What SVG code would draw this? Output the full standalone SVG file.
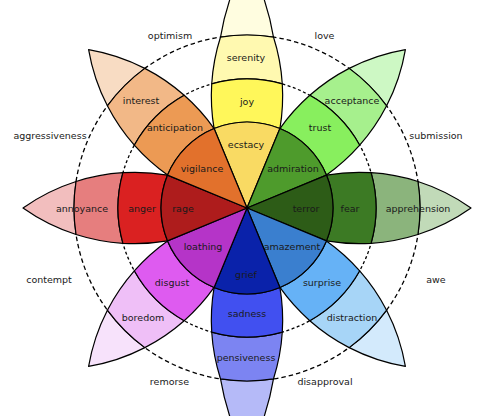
<svg xmlns="http://www.w3.org/2000/svg" xmlns:xlink="http://www.w3.org/1999/xlink" width="493" height="416" viewBox="0 0 493 416">
<style>
.c{fill:none;stroke:#000;stroke-width:1.3}
.o{stroke-dasharray:4.5 3}
.i{stroke-dasharray:3 2.5}
.s{stroke:#000;stroke-width:1.2;stroke-linejoin:round}
text{font-family:"DejaVu Sans",Verdana,sans-serif;font-size:9.5px;fill:#1a1a1a;text-anchor:middle}
</style>
<defs>
<path id="sec" d="M0,0 L79.45,-32.91 A86,86 0 0 1 79.45,32.91 Z"/>
<path id="b1" d="M79.45,-32.91 A193.67,193.67 0 0 1 124.08,-35.29 A129,129 0 0 1 124.08,35.29 A193.67,193.67 0 0 1 79.45,32.91 A86,86 0 0 0 79.45,-32.91 Z"/>
<path id="b2" d="M124.08,-35.29 A193.67,193.67 0 0 1 170.96,-26.48 A173,173 0 0 1 170.96,26.48 A193.67,193.67 0 0 1 124.08,35.29 A129,129 0 0 0 124.08,-35.29 Z"/>
<path id="b3" d="M170.96,-26.48 A193.67,193.67 0 0 1 224,0 A193.67,193.67 0 0 1 170.96,26.48 A173,173 0 0 0 170.96,-26.48 Z"/>
<path id="b3v" d="M170.96,-26.48 Q210,-20 250,0 Q210,20 170.96,26.48 A173,173 0 0 0 170.96,-26.48 Z"/>
</defs>
<g id="connectors">
<circle class="c o" cx="247" cy="208" r="173"/>
<circle class="c i" cx="247" cy="208" r="129"/>
</g>
<g id="tips">
<use href="#b3v" class="s" fill="#FFFDE0" transform="translate(247 208) rotate(-90)"/>
<use href="#b3" class="s" fill="#CDF8C4" transform="translate(247 208) rotate(-45)"/>
<use href="#b3" class="s" fill="#C1DAB8" transform="translate(247 208) rotate(0)"/>
<use href="#b3" class="s" fill="#D3EAFC" transform="translate(247 208) rotate(45)"/>
<use href="#b3v" class="s" fill="#B5BAF8" transform="translate(247 208) rotate(90)"/>
<use href="#b3" class="s" fill="#F7E2FB" transform="translate(247 208) rotate(135)"/>
<use href="#b3" class="s" fill="#F2BEBE" transform="translate(247 208) rotate(180)"/>
<use href="#b3" class="s" fill="#F8DCC3" transform="translate(247 208) rotate(-135)"/>
</g>
<g id="serenity"><use href="#b2" class="s" fill="#FFF9B0" transform="translate(247 208) rotate(-90)"/><text x="246" y="60.8">serenity</text></g>
<g id="acceptance"><use href="#b2" class="s" fill="#A6F08D" transform="translate(247 208) rotate(-45)"/><text x="352" y="103.5">acceptance</text></g>
<g id="apprehension"><use href="#b2" class="s" fill="#8BB47C" transform="translate(247 208) rotate(0)"/></g>
<g id="distraction"><use href="#b2" class="s" fill="#A7D5F7" transform="translate(247 208) rotate(45)"/><text x="352" y="320.5">distraction</text></g>
<g id="pensiveness"><use href="#b2" class="s" fill="#7C84F2" transform="translate(247 208) rotate(90)"/><text x="246" y="360.5">pensiveness</text></g>
<g id="boredom"><use href="#b2" class="s" fill="#EFBFF7" transform="translate(247 208) rotate(135)"/><text x="143" y="320.5">boredom</text></g>
<g id="annoyance"><use href="#b2" class="s" fill="#E67E7E" transform="translate(247 208) rotate(180)"/></g>
<g id="interest"><use href="#b2" class="s" fill="#F2B887" transform="translate(247 208) rotate(-135)"/><text x="141" y="103.5">interest</text></g>
<g id="joy"><use href="#b1" class="s" fill="#FFF75A" transform="translate(247 208) rotate(-90)"/><text x="247" y="105.3">joy</text></g>
<g id="trust"><use href="#b1" class="s" fill="#88EF5E" transform="translate(247 208) rotate(-45)"/><text x="320" y="130.5">trust</text></g>
<g id="fear"><use href="#b1" class="s" fill="#3C7A24" transform="translate(247 208) rotate(0)"/><text x="350" y="211.5">fear</text></g>
<g id="surprise"><use href="#b1" class="s" fill="#66B2F6" transform="translate(247 208) rotate(45)"/><text x="322" y="285.8">surprise</text></g>
<g id="sadness"><use href="#b1" class="s" fill="#4150F0" transform="translate(247 208) rotate(90)"/><text x="247" y="316.8">sadness</text></g>
<g id="disgust"><use href="#b1" class="s" fill="#DE5BF0" transform="translate(247 208) rotate(135)"/><text x="172" y="285.8">disgust</text></g>
<g id="anger"><use href="#b1" class="s" fill="#DA2121" transform="translate(247 208) rotate(180)"/><text x="142" y="211.5">anger</text></g>
<g id="anticipation"><use href="#b1" class="s" fill="#EC9A54" transform="translate(247 208) rotate(-135)"/><text x="175" y="130.8">anticipation</text></g>
<g id="ecstacy"><use href="#sec" class="s" fill="#F9DA63" transform="translate(247 208) rotate(-90)"/><text x="246" y="147.5">ecstacy</text></g>
<g id="admiration"><use href="#sec" class="s" fill="#4E9B2C" transform="translate(247 208) rotate(-45)"/><text x="293" y="171.8">admiration</text></g>
<g id="terror"><use href="#sec" class="s" fill="#2D5C17" transform="translate(247 208) rotate(0)"/><text x="306" y="211.5">terror</text></g>
<g id="amazement"><use href="#sec" class="s" fill="#3A7FCF" transform="translate(247 208) rotate(45)"/><text x="292" y="250.3">amazement</text></g>
<g id="grief"><use href="#sec" class="s" fill="#0A22AA" transform="translate(247 208) rotate(90)"/><text x="246" y="277.5">grief</text></g>
<g id="loathing"><use href="#sec" class="s" fill="#B534C8" transform="translate(247 208) rotate(135)"/><text x="203" y="250.3">loathing</text></g>
<g id="rage"><use href="#sec" class="s" fill="#AE1C1C" transform="translate(247 208) rotate(180)"/><text x="183" y="211.5">rage</text></g>
<g id="vigilance"><use href="#sec" class="s" fill="#E2712C" transform="translate(247 208) rotate(-135)"/><text x="202" y="171.8">vigilance</text></g>
<g id="labels">
<text x="418" y="211.5">apprehension</text>
<text x="82" y="211.5">annoyance</text>
<text x="170" y="38.5">optimism</text>
<text x="324.5" y="38.5">love</text>
<text x="50" y="138.5">aggressiveness</text>
<text x="436" y="138.5">submission</text>
<text x="49" y="282.5">contempt</text>
<text x="436" y="282.5">awe</text>
<text x="169.5" y="385">remorse</text>
<text x="325" y="385">disapproval</text>
</g>
</svg>
